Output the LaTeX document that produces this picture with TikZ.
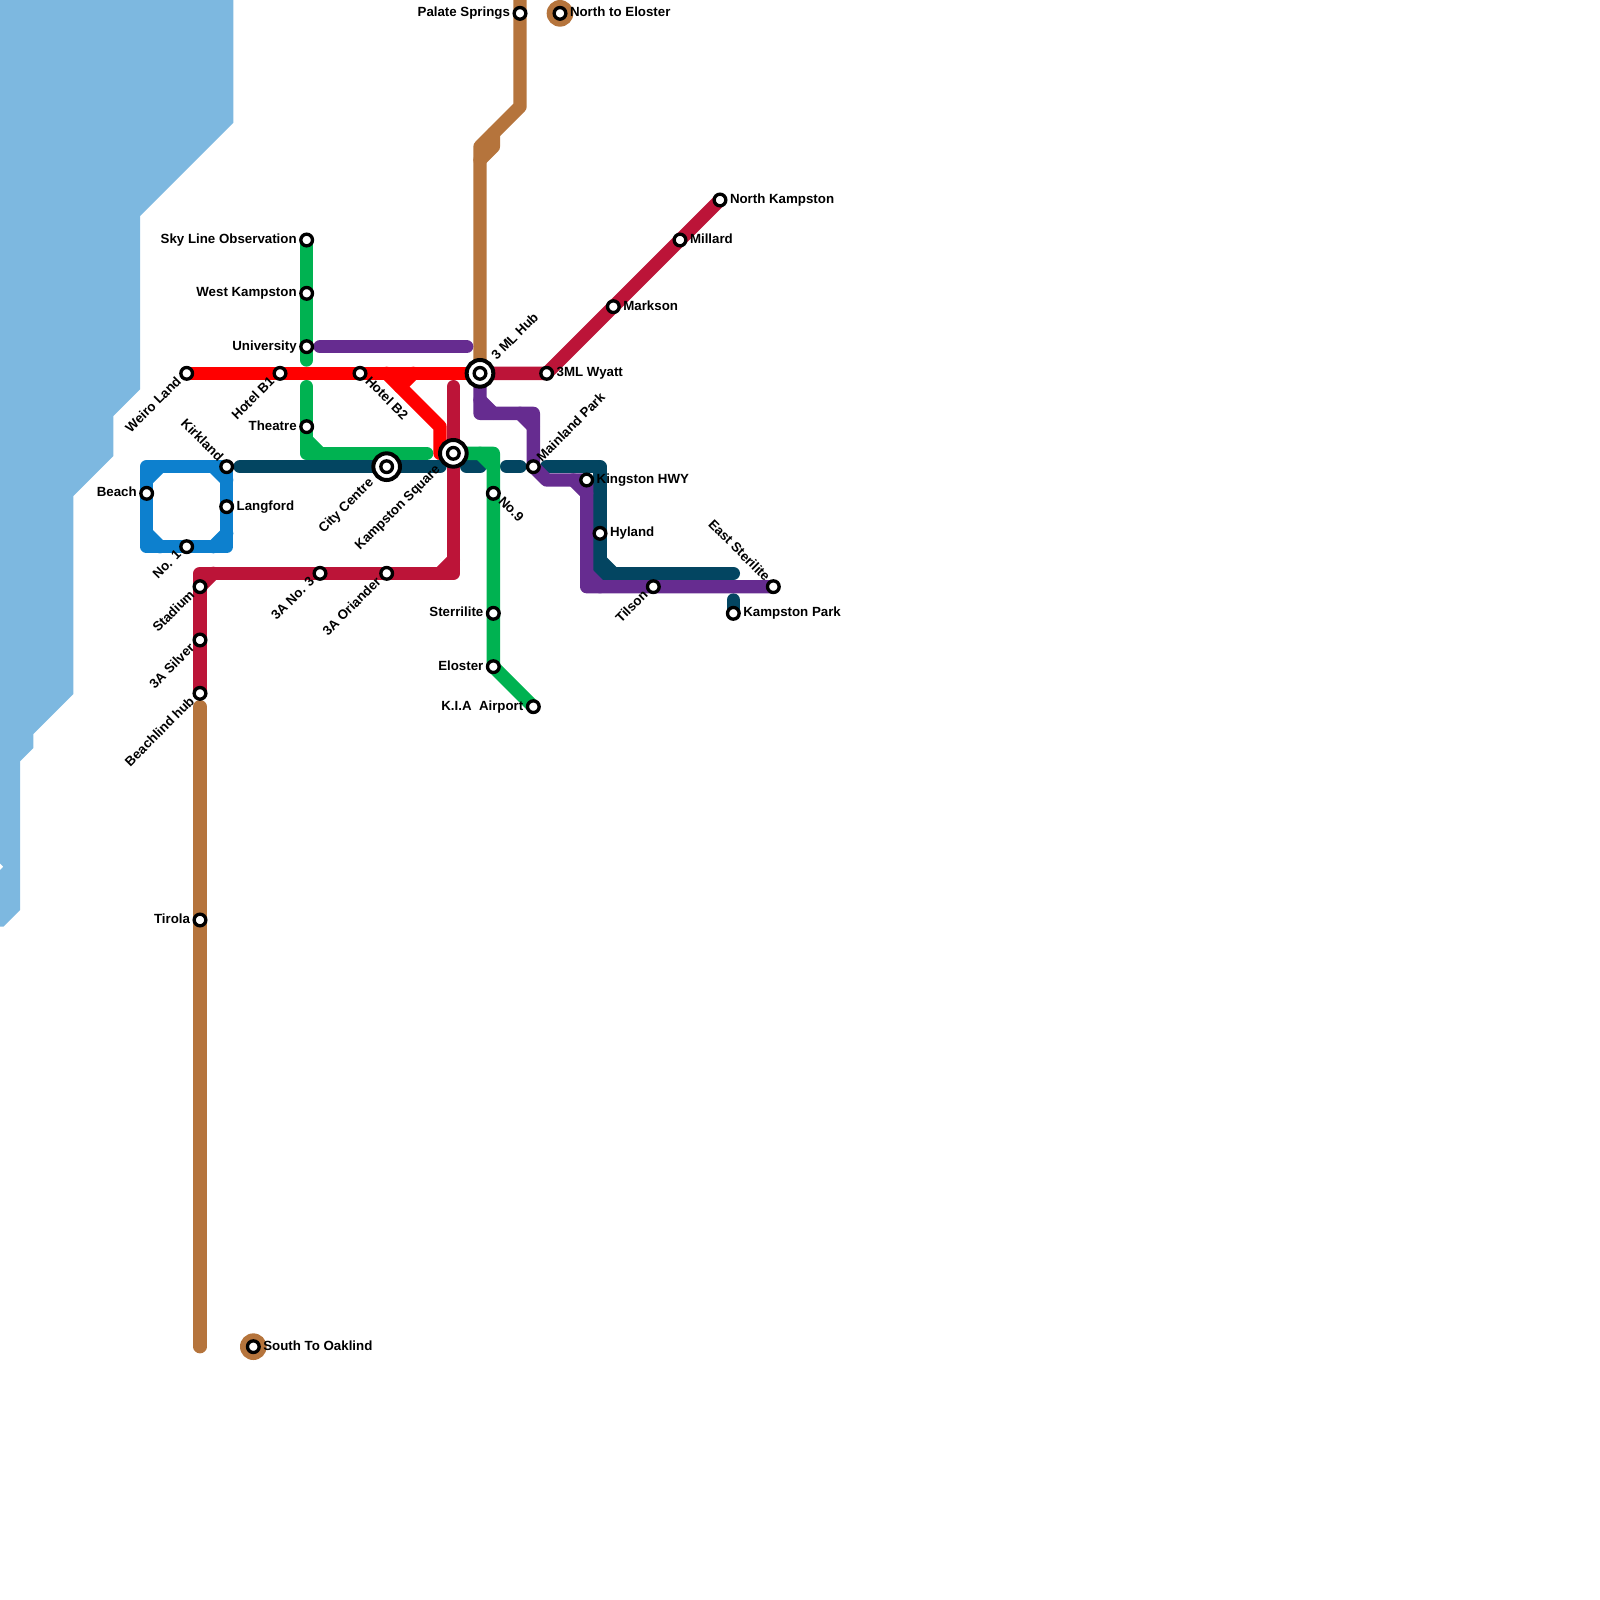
\documentclass[tikz,border=0pt]{standalone}
\usepackage{fontspec}
\setmainfont{Liberation Sans}
\usetikzlibrary{backgrounds}
\definecolor{waterc}{HTML}{7DB8E0}
\definecolor{bluec}{HTML}{0D80CE}
\definecolor{navyc}{HTML}{034561}
\definecolor{greenc}{HTML}{00B251}
\definecolor{crimc}{HTML}{BC1438}
\definecolor{redc}{HTML}{FF0000}
\definecolor{purpc}{HTML}{662C90}
\definecolor{brownc}{HTML}{B5743C}
\tikzset{
  x=0.4cm,y=-0.4cm,
  route/.style={line width=0.4cm,line cap=round,line join=round},
  stn/.style={circle,draw=black,fill=white,line width=0.1cm,minimum size=0.35cm,inner sep=0pt,outer sep=0pt},
  xchg/.style={circle,draw=black,fill=white,line width=0.12cm,minimum size=0.8cm,inner sep=0pt,outer sep=0pt},
  lab/.style={font=\fontsize{11.35}{12}\selectfont\bfseries,inner sep=0pt,outer sep=0pt,text=black},
  lbW/.style={lab,shift={(-0.75,0.25)},anchor=base east},
  lbE/.style={lab,shift={(0.75,0.25)},anchor=base west},
  lbDL/.style={lab,shift={(-0.36,0.68)},rotate=45,anchor=base east},
  lbDLx/.style={lab,shift={(-0.95,1.27)},rotate=45,anchor=base east},
  lbUR/.style={lab,shift={(0.66,-0.34)},rotate=45,anchor=base west},
  lbURx/.style={lab,shift={(1.26,-0.94)},rotate=45,anchor=base west},
  lbDR/.style={lab,shift={(0.34,0.66)},rotate=-45,anchor=base west},
  lbUL/.style={lab,shift={(-0.66,-0.34)},rotate=-45,anchor=base east},
}
\begin{document}
\begin{tikzpicture}
\useasboundingbox (0,0) rectangle (120,120);
% interchange rings
\node[xchg] (xCity) at (29,35) {};
\node[xchg] (xKam) at (34,34) {};
\node[xchg] (xHub) at (36,28) {};
% stations
\node[stn] (sSky) at (23,18) {};
\node[stn] (sWest) at (23,22) {};
\node[stn] (sUni) at (23,26) {};
\node[stn] (sWeiro) at (14,28) {};
\node[stn] (sB1) at (21,28) {};
\node[stn] (sB2) at (27,28) {};
\node[stn] (sThe) at (23,32) {};
\node[stn] (sCity) at (29,35) {};
\node[stn] (sKam) at (34,34) {};
\node[stn] (sHub) at (36,28) {};
\node[stn] (sWy) at (41,28) {};
\node[stn] (sMark) at (46,23) {};
\node[stn] (sMill) at (51,18) {};
\node[stn] (sNK) at (54,15) {};
\node[stn] (sMain) at (40,35) {};
\node[stn] (sKing) at (44,36) {};
\node[stn] (sHy) at (45,40) {};
\node[stn] (sTil) at (49,44) {};
\node[stn] (sES) at (58,44) {};
\node[stn] (sKP) at (55,46) {};
\node[stn] (sNo9) at (37,37) {};
\node[stn] (sSter) at (37,46) {};
\node[stn] (sElo) at (37,50) {};
\node[stn] (sAir) at (40,53) {};
\node[stn] (sPal) at (39,1) {};
\node[stn] (sNE) at (42,1) {};
\node[stn] (sKirk) at (17,35) {};
\node[stn] (sLang) at (17,38) {};
\node[stn] (sBeach) at (11,37) {};
\node[stn] (sNo1) at (14,41) {};
\node[stn] (sStad) at (15,44) {};
\node[stn] (sSil) at (15,48) {};
\node[stn] (sBH) at (15,52) {};
\node[stn] (sNo3) at (24,43) {};
\node[stn] (sOri) at (29,43) {};
\node[stn] (sTir) at (15,69) {};
\node[stn] (sSO) at (19,101) {};
% labels
\node[lbW] (lSky) at (sSky.center) {Sky Line Observation};
\node[lbW] (lWest) at (sWest.center) {West Kampston};
\node[lbW] (lUni) at (sUni.center) {University};
\node[lbW] (lThe) at (sThe.center) {Theatre};
\node[lbW] (lBeach) at (sBeach.center) {Beach};
\node[lbW] (lSter) at (sSter.center) {Sterrilite};
\node[lbW] (lElo) at (sElo.center) {Eloster};
\node[lbW] (lAir) at (sAir.center) {K.I.A\ \ Airport};
\node[lbW] (lPal) at (sPal.center) {Palate Springs};
\node[lbW] (lTir) at (sTir.center) {Tirola};
\node[lbE] (lNE) at (sNE.center) {North to Eloster};
\node[lbE] (lNK) at (sNK.center) {North Kampston};
\node[lbE] (lMill) at (sMill.center) {Millard};
\node[lbE] (lMark) at (sMark.center) {Markson};
\node[lbE] (lWy) at (sWy.center) {3ML Wyatt};
\node[lbE] (lKing) at (sKing.center) {Kingston HWY};
\node[lbE] (lHy) at (sHy.center) {Hyland};
\node[lbE] (lKP) at (sKP.center) {Kampston Park};
\node[lbE] (lLang) at (sLang.center) {Langford};
\node[lbE] (lSO) at (sSO.center) {South To Oaklind};
\node[lbDL] (lWeiro) at (sWeiro.center) {Weiro Land};
\node[lbDL] (lB1) at (sB1.center) {Hotel B1};
\node[lbDLx] (lCity) at (sCity.center) {City Centre};
\node[lbDLx] (lKam) at (sKam.center) {Kampston Square};
\node[lbDL] (lNo1) at (sNo1.center) {No. 1};
\node[lbDL] (lStad) at (sStad.center) {Stadium};
\node[lbDL] (lSil) at (sSil.center) {3A Silver};
\node[lbDL] (lBH) at (sBH.center) {Beachlind hub};
\node[lbDL] (lNo3) at (sNo3.center) {3A No. 3};
\node[lbDL] (lOri) at (sOri.center) {3A Oriander};
\node[lbDL] (lTil) at (sTil.center) {Tilson};
\node[lbURx] (lHub) at (sHub.center) {3 ML Hub};
\node[lbUR] (lMain) at (sMain.center) {Mainland Park};
\node[lbDR] (lB2) at (sB2.center) {Hotel B2};
\node[lbDR] (lNo9) at (sNo9.center) {No.9};
\node[lbUL] (lKirk) at (sKirk.center) {Kirkland};
\node[lbUL] (lES) at (sES.center) {East Sterilite};
% bend and free-end points
\coordinate (gA) at (23,27);
\coordinate (gB) at (23,29);
\coordinate (gBc) at (23,34);
\coordinate (gBe) at (32,34);
\coordinate (gC1) at (23,33);
\coordinate (gC2) at (24,34);
\coordinate (gD) at (37,34);
\coordinate (gE) at (36,34);
\coordinate (gF) at (37,35);
\coordinate (bTL) at (11,35);
\coordinate (bBL) at (11,41);
\coordinate (bBR) at (17,41);
\coordinate (bA1) at (11,36);
\coordinate (bA2) at (12,35);
\coordinate (bB1) at (16,35);
\coordinate (bB2) at (17,36);
\coordinate (bC1) at (11,40);
\coordinate (bC2) at (12,41);
\coordinate (bD1) at (16,41);
\coordinate (bD2) at (17,40);
\coordinate (nA) at (18,35);
\coordinate (nB) at (33,35);
\coordinate (nC) at (35,35);
\coordinate (nD) at (36,35);
\coordinate (nE) at (38,35);
\coordinate (nF) at (39,35);
\coordinate (nG) at (41,35);
\coordinate (nH) at (45,35);
\coordinate (nI) at (45,43);
\coordinate (nJ) at (55,43);
\coordinate (nK) at (45,42);
\coordinate (nL) at (46,43);
\coordinate (nM) at (55,45);
\coordinate (cA) at (34,29);
\coordinate (cB) at (34,43);
\coordinate (cC) at (15,43);
\coordinate (cD) at (34,42);
\coordinate (cE) at (33,43);
\coordinate (cF) at (16,43);
\coordinate (rA) at (29,28);
\coordinate (rB) at (33,32);
\coordinate (rC) at (33,34);
\coordinate (rD) at (31,28);
\coordinate (rE) at (30,29);
\coordinate (pA) at (24,26);
\coordinate (pB) at (35,26);
\coordinate (pC) at (36,31);
\coordinate (pD) at (40,31);
\coordinate (pE) at (36,30);
\coordinate (pF) at (37,31);
\coordinate (pG) at (39,31);
\coordinate (pH) at (40,32);
\coordinate (pI) at (41,36);
\coordinate (pJ) at (44,44);
\coordinate (pK) at (43,36);
\coordinate (pL) at (44,37);
\coordinate (pM) at (44,43);
\coordinate (pN) at (45,44);
\coordinate (wA) at (15,53);
\coordinate (wB) at (15,101);
\coordinate (wC) at (39,0);
\coordinate (wD) at (39,8);
\coordinate (wE) at (36,11);
\coordinate (wF) at (37,10);
\coordinate (wG) at (37,11);
\coordinate (wH) at (36,12);
\begin{pgfonlayer}{background}
% water
\fill[waterc] (0,0) -- (17.5,0) -- (17.5,9.2) -- (10.5,16.2) -- (10.5,29.2) -- (8.5,31.2) -- (8.5,34.2) -- (5.5,37.2) -- (5.5,52.05) -- (2.5,55.05) -- (2.5,56.1) -- (1.5,57.1) -- (1.5,68.25) -- (0.25,69.5) -- (0,69.5) -- (0,65.25) -- (0.25,65) -- (0,64.75) -- cycle;
% blue ring
\draw[route,bluec] (bTL) -- (sKirk.center) -- (sLang.center) -- (bBR) -- (sNo1.center) -- (bBL) -- (sBeach.center) -- cycle;
\draw[route,bluec] (bA1) -- (bA2) (bB1) -- (bB2) (bC1) -- (bC2) (bD1) -- (bD2);
% navy
\draw[route,navyc] (nA) -- (sCity.center) -- (nB);
\draw[route,navyc] (nC) -- (nD);
\draw[route,navyc] (nE) -- (nF);
\draw[route,navyc] (nG) -- (nH) -- (sHy.center) -- (nI) -- (nJ);
\draw[route,navyc] (nK) -- (nL);
\draw[route,navyc] (nM) -- (sKP.center);
% green
\draw[route,greenc] (sSky.center) -- (sWest.center) -- (sUni.center) -- (gA);
\draw[route,greenc] (gB) -- (sThe.center) -- (gBc) -- (gBe);
\draw[route,greenc] (gC1) -- (gC2);
\draw[route,greenc] (sKam.center) -- (gD) -- (sNo9.center) -- (sSter.center) -- (sElo.center) -- (sAir.center);
\draw[route,greenc] (gE) -- (gF);
% crimson
\draw[route,crimc] (cA) -- (sKam.center) -- (cB) -- (sOri.center) -- (sNo3.center) -- (cC) -- (sStad.center) -- (sSil.center) -- (sBH.center);
\draw[route,crimc] (cD) -- (cE);
\draw[route,crimc] (cF) -- (sStad.center);
\draw[route,crimc] (sHub.center) -- (sWy.center) -- (sMark.center) -- (sMill.center) -- (sNK.center);
% brown
\draw[route,brownc] (wA) -- (sTir.center) -- (wB);
\draw[route,brownc] (wC) -- (wD) -- (wE) -- (sHub.center);
\draw[route,brownc] (wF) -- (wG) -- (wH);
\fill[brownc] (sNE.center) circle (0.4cm);
\fill[brownc] (sSO.center) circle (0.4cm);
% red
\draw[route,redc] (sWeiro.center) -- (sHub.center);
\draw[route,redc] (rA) -- (rB) -- (rC);
\draw[route,redc] (rD) -- (rE);
% purple
\draw[route,purpc] (pA) -- (pB);
\draw[route,purpc] (sHub.center) -- (pC) -- (pD) -- (sMain.center) -- (pI) -- (sKing.center) -- (pJ) -- (sES.center);
\draw[route,purpc] (pE) -- (pF);
\draw[route,purpc] (pG) -- (pH);
\draw[route,purpc] (pK) -- (pL);
\draw[route,purpc] (pM) -- (pN);
\end{pgfonlayer}
\end{tikzpicture}
\end{document}
